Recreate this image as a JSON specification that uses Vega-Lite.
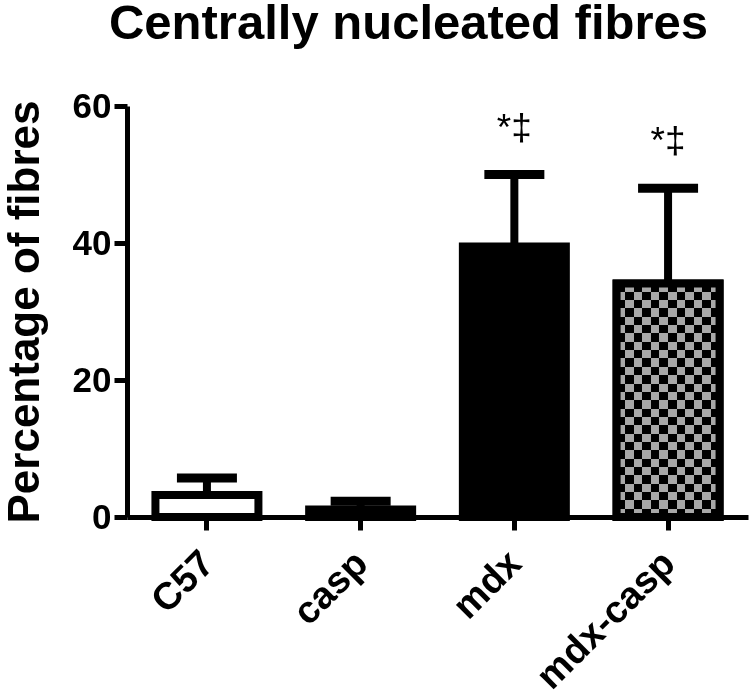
{
  "$schema": "https://vega.github.io/schema/vega-lite/v6.json",
  "width": 621,
  "height": 411,
  "autosize": {"type": "none"},
  "padding": {"left": 127, "top": 106, "right": 2, "bottom": 179},
  "background": "white",
  "config": {"view": {"stroke": null}, "font": "Liberation Sans"},
  "title": {
    "text": "Centrally nucleated fibres",
    "font": "Liberation Sans",
    "fontSize": 49,
    "fontWeight": "bold",
    "color": "black",
    "anchor": "middle",
    "frame": "group",
    "offset": 40,
    "dx": -29
  },
  "data": {
    "values": [
      {"group": "C57", "mean": 3.2, "upper": 5.7, "sig": ""},
      {"group": "casp", "mean": 1.1, "upper": 2.3, "sig": ""},
      {"group": "mdx", "mean": 39.5, "upper": 50.0, "sig": "*‡"},
      {"group": "mdx-casp", "mean": 34.1, "upper": 48.0, "sig": "*‡"}
    ]
  },
  "encoding": {
    "x": {
      "field": "group",
      "type": "nominal",
      "sort": null,
      "scale": {"domain": ["C57", "casp", "mdx", "mdx-casp"], "paddingInner": 0.33, "paddingOuter": 0.185},
      "axis": {
        "title": null,
        "labelAngle": -45,
        "labelAlign": "right",
        "labelBaseline": "top",
        "labelOffset": -12,
        "labelFont": "Liberation Sans",
        "labelFontSize": 38,
        "labelFontWeight": "bold",
        "labelColor": "black",
        "labelPadding": 14,
        "domainColor": "black",
        "domainWidth": 5,
        "tickColor": "black",
        "tickWidth": 5,
        "tickSize": 13
      }
    }
  },
  "layer": [
    {
      "mark": {"type": "rule", "color": "black", "strokeWidth": 8},
      "encoding": {
        "y": {
          "field": "mean",
          "type": "quantitative",
          "scale": {"domain": [0, 60], "nice": false},
          "axis": {
            "title": "Percentage of fibres",
            "titleFont": "Liberation Sans",
            "titleFontSize": 44,
            "titleFontWeight": "bold",
            "titleColor": "black",
            "titlePadding": 25,
            "values": [0, 20, 40, 60],
            "grid": false,
            "labelFont": "Liberation Sans",
            "labelFontSize": 35,
            "labelFontWeight": "bold",
            "labelColor": "black",
            "labelPadding": 3,
            "domainColor": "black",
            "domainWidth": 5,
            "tickColor": "black",
            "tickWidth": 5,
            "tickSize": 13
          }
        },
        "y2": {"field": "upper"}
      }
    },
    {
      "mark": {"type": "tick", "color": "black", "size": 60, "thickness": 9, "opacity": 1},
      "encoding": {"y": {"field": "upper", "type": "quantitative"}}
    },
    {
      "mark": {"type": "bar", "stroke": "black", "strokeWidth": 8},
      "encoding": {
        "y": {"field": "mean", "type": "quantitative"},
        "fill": {
          "field": "group",
          "type": "nominal",
          "scale": {"domain": ["C57", "casp", "mdx", "mdx-casp"], "range": ["white", "white", "black", "black"]},
          "legend": null
        }
      }
    },
    {
      "transform": [{"filter": "datum.group === 'mdx-casp'"}],
      "mark": {
        "type": "bar",
        "strokeWidth": 0,
        "fill": {
          "gradient": "linear", "x1": 0, "y1": 0, "x2": 1, "y2": 0,
          "stops": [
            {"offset": 0, "color": "black"}, {"offset": 0.0833, "color": "black"},
            {"offset": 0.0833, "color": "#a8a8a8"}, {"offset": 0.1667, "color": "#a8a8a8"},
            {"offset": 0.1667, "color": "black"}, {"offset": 0.25, "color": "black"},
            {"offset": 0.25, "color": "#a8a8a8"}, {"offset": 0.3333, "color": "#a8a8a8"},
            {"offset": 0.3333, "color": "black"}, {"offset": 0.4167, "color": "black"},
            {"offset": 0.4167, "color": "#a8a8a8"}, {"offset": 0.5, "color": "#a8a8a8"},
            {"offset": 0.5, "color": "black"}, {"offset": 0.5833, "color": "black"},
            {"offset": 0.5833, "color": "#a8a8a8"}, {"offset": 0.6667, "color": "#a8a8a8"},
            {"offset": 0.6667, "color": "black"}, {"offset": 0.75, "color": "black"},
            {"offset": 0.75, "color": "#a8a8a8"}, {"offset": 0.8333, "color": "#a8a8a8"},
            {"offset": 0.8333, "color": "black"}, {"offset": 0.9167, "color": "black"},
            {"offset": 0.9167, "color": "#a8a8a8"}, {"offset": 1, "color": "#a8a8a8"}
          ]
        }
      },
      "encoding": {"y": {"field": "mean", "type": "quantitative"}}
    },
    {
      "transform": [{"filter": "datum.group === 'mdx-casp'"}],
      "mark": {
        "type": "bar",
        "strokeWidth": 0,
        "blend": "difference",
        "fill": {
          "gradient": "linear", "x1": 0, "y1": 0, "x2": 0, "y2": 1,
          "stops": [
            {"offset": 0, "color": "black"}, {"offset": 0.0357, "color": "black"},
            {"offset": 0.0357, "color": "#a8a8a8"}, {"offset": 0.0714, "color": "#a8a8a8"},
            {"offset": 0.0714, "color": "black"}, {"offset": 0.1071, "color": "black"},
            {"offset": 0.1071, "color": "#a8a8a8"}, {"offset": 0.1429, "color": "#a8a8a8"},
            {"offset": 0.1429, "color": "black"}, {"offset": 0.1786, "color": "black"},
            {"offset": 0.1786, "color": "#a8a8a8"}, {"offset": 0.2143, "color": "#a8a8a8"},
            {"offset": 0.2143, "color": "black"}, {"offset": 0.25, "color": "black"},
            {"offset": 0.25, "color": "#a8a8a8"}, {"offset": 0.2857, "color": "#a8a8a8"},
            {"offset": 0.2857, "color": "black"}, {"offset": 0.3214, "color": "black"},
            {"offset": 0.3214, "color": "#a8a8a8"}, {"offset": 0.3571, "color": "#a8a8a8"},
            {"offset": 0.3571, "color": "black"}, {"offset": 0.3929, "color": "black"},
            {"offset": 0.3929, "color": "#a8a8a8"}, {"offset": 0.4286, "color": "#a8a8a8"},
            {"offset": 0.4286, "color": "black"}, {"offset": 0.4643, "color": "black"},
            {"offset": 0.4643, "color": "#a8a8a8"}, {"offset": 0.5, "color": "#a8a8a8"},
            {"offset": 0.5, "color": "black"}, {"offset": 0.5357, "color": "black"},
            {"offset": 0.5357, "color": "#a8a8a8"}, {"offset": 0.5714, "color": "#a8a8a8"},
            {"offset": 0.5714, "color": "black"}, {"offset": 0.6071, "color": "black"},
            {"offset": 0.6071, "color": "#a8a8a8"}, {"offset": 0.6429, "color": "#a8a8a8"},
            {"offset": 0.6429, "color": "black"}, {"offset": 0.6786, "color": "black"},
            {"offset": 0.6786, "color": "#a8a8a8"}, {"offset": 0.7143, "color": "#a8a8a8"},
            {"offset": 0.7143, "color": "black"}, {"offset": 0.75, "color": "black"},
            {"offset": 0.75, "color": "#a8a8a8"}, {"offset": 0.7857, "color": "#a8a8a8"},
            {"offset": 0.7857, "color": "black"}, {"offset": 0.8214, "color": "black"},
            {"offset": 0.8214, "color": "#a8a8a8"}, {"offset": 0.8571, "color": "#a8a8a8"},
            {"offset": 0.8571, "color": "black"}, {"offset": 0.8929, "color": "black"},
            {"offset": 0.8929, "color": "#a8a8a8"}, {"offset": 0.9286, "color": "#a8a8a8"},
            {"offset": 0.9286, "color": "black"}, {"offset": 0.9643, "color": "black"},
            {"offset": 0.9643, "color": "#a8a8a8"}, {"offset": 1, "color": "#a8a8a8"}
          ]
        }
      },
      "encoding": {"y": {"field": "mean", "type": "quantitative"}}
    },
    {
      "transform": [{"filter": "datum.group === 'mdx-casp'"}],
      "mark": {"type": "bar", "filled": false, "fill": null, "stroke": "black", "strokeWidth": 8},
      "encoding": {"y": {"field": "mean", "type": "quantitative"}}
    },
    {
      "mark": {"type": "text", "font": "Liberation Sans", "fontSize": 37, "color": "black", "align": "center", "baseline": "bottom", "dy": -27},
      "encoding": {
        "y": {"field": "upper", "type": "quantitative"},
        "text": {"field": "sig"}
      }
    }
  ]
}
